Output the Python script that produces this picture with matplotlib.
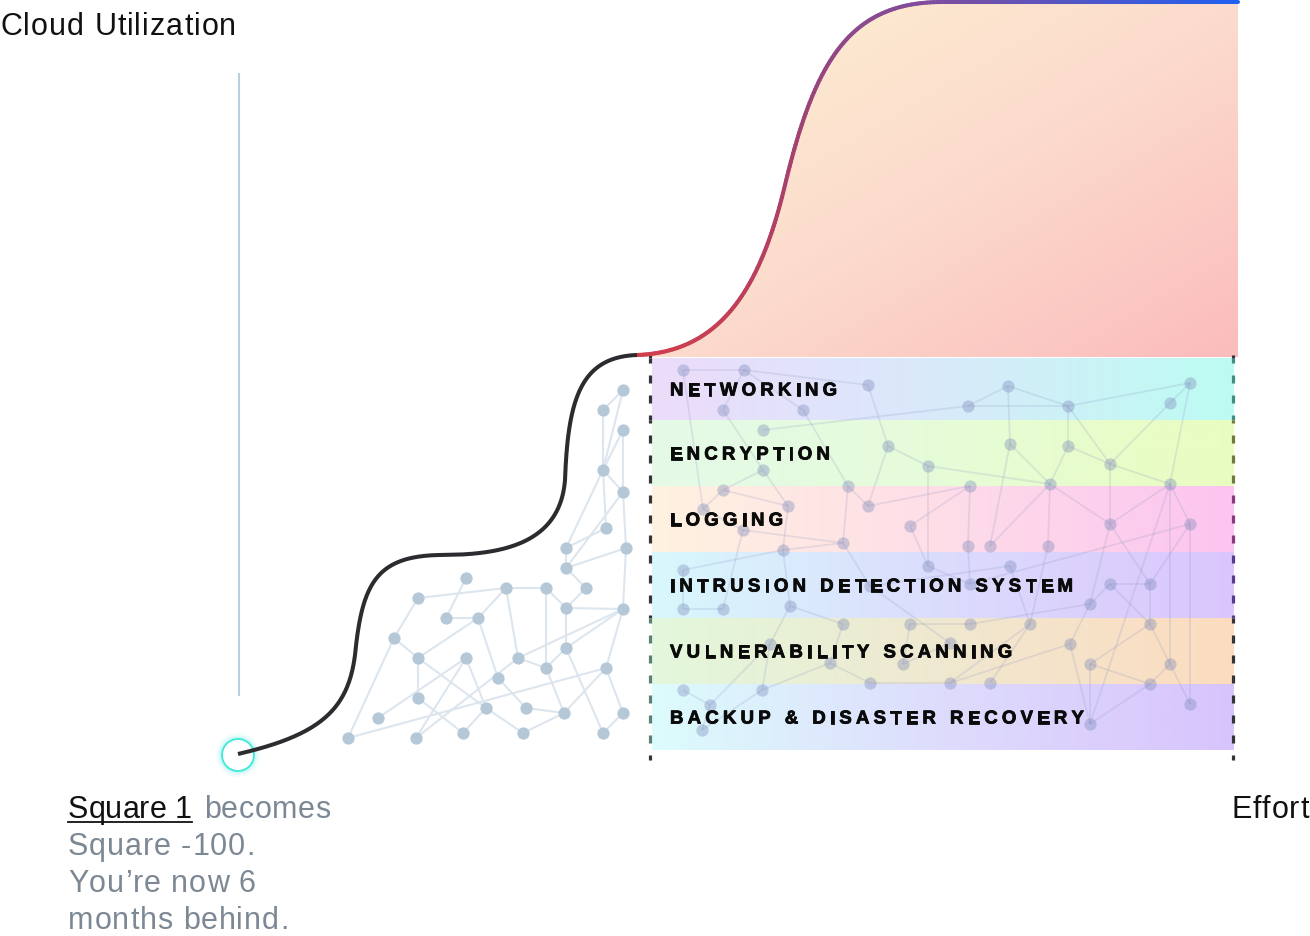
import numpy as np
import matplotlib
matplotlib.use('Agg')
import matplotlib.pyplot as plt
import matplotlib.patheffects as pe
from matplotlib.patches import PathPatch, Circle
from matplotlib.path import Path
from matplotlib.collections import LineCollection
from matplotlib.colors import LinearSegmentedColormap
from matplotlib.font_manager import FontProperties, findfont
from matplotlib.ft2font import FT2Font

W, H = 1310, 936
FONT = 'Liberation Sans'

# ---- data ----
layers = ['NETWORKING', 'ENCRYPTION', 'LOGGING', 'INTRUSION DETECTION SYSTEM',
          'VULNERABILITY SCANNING', 'BACKUP & DISASTER RECOVERY']
layer_edges = [358, 420, 486, 552, 618, 684, 750]
layer_colors = [
    ['#ecdcfb', '#d8eafa', '#bcfcf2'],
    ['#e4fae8', '#e6fcd8', '#eafcc0'],
    ['#fff2e0', '#fedde8', '#fcc4f0'],
    ['#d8f8fc', '#dcdcfc', '#dac6fc'],
    ['#e2f8dc', '#f0e8d0', '#fcdcc0'],
    ['#dcfcfc', '#dedcfc', '#d8c4fc'],
]
dash_left = ['#333338', '#333338', '#333338', '#333338', '#5e7f78', '#5e7f78']
dash_right = ['#3f8f80', '#707a3a', '#8a3a78', '#5a3a90', '#333338', '#333338']

# curve knots (cubic bezier chains, pixel space)
black_x = [238, 320, 348, 355, 362, 375, 440, 500, 560, 565, 568, 580, 637]
black_y = [754, 735, 710, 655, 585, 556, 555, 555, 545, 480, 400, 357, 355]
red_x = [637, 720, 760, 785, 815, 850, 940]
red_y = [355, 352, 290, 185, 60, 3, 2]
plateau_end = 1238

# left (loose) network
left_x = [623, 603, 623, 603, 623, 606, 566, 626, 566, 586, 466, 506, 546, 418, 446, 478, 566, 623,
          394, 418, 466, 518, 546, 566, 606, 498, 418, 486, 526, 564, 623, 378, 348, 416, 463, 523, 603]
left_y = [390, 410, 430, 470, 492, 528, 548, 548, 568, 588, 578, 588, 588, 598, 618, 618, 608, 609,
          638, 658, 658, 658, 668, 648, 668, 678, 698, 708, 708, 713, 713, 718, 738, 738, 733, 733, 733]
left_links = [(0, 1), (0, 3), (1, 3), (2, 3), (2, 4), (3, 4), (3, 5), (3, 6), (4, 8), (4, 7), (5, 6),
              (6, 8), (8, 7), (7, 17), (8, 9), (9, 16), (16, 17), (16, 23), (12, 16), (12, 22), (11, 12),
              (11, 13), (11, 15), (11, 21), (10, 14), (14, 15), (15, 19), (15, 25), (13, 18), (18, 19),
              (18, 32), (19, 26), (19, 27), (20, 31), (20, 33), (20, 27), (26, 34), (27, 34), (27, 35),
              (25, 28), (28, 29), (29, 24), (35, 29), (21, 22), (21, 17), (22, 23), (22, 29), (23, 17),
              (23, 36), (17, 24), (24, 30), (36, 30), (32, 24), (33, 21)]

# network behind the layers
right_x = [683, 744, 723, 803, 868, 763, 888, 763, 928, 723, 703, 788, 848, 868, 910, 743, 783, 843,
           683, 928, 870, 683, 723, 790, 843, 910, 770, 830, 903, 950, 683, 710, 762, 870, 950, 702,
           968, 1008, 1068, 1190, 1170, 1010, 1068, 1110, 970, 1050, 1170, 1110, 1190, 968, 990, 1048,
           1010, 970, 1110, 1150, 1090, 970, 1030, 1150, 1070, 1090, 1170, 990, 1150, 1190, 1090]
right_y = [370, 370, 410, 410, 385, 430, 446, 470, 466, 490, 509, 506, 486, 506, 526, 530, 550, 543,
           570, 566, 586, 609, 609, 606, 624, 624, 644, 663, 664, 643, 690, 705, 690, 683, 683, 730,
           406, 386, 406, 383, 403, 444, 446, 464, 486, 484, 484, 524, 524, 546, 546, 546,
           566, 584, 584, 584, 604, 624, 624, 624, 644, 664, 664, 683, 684, 704, 724]
right_links = [(0, 1), (0, 10), (1, 2), (1, 3), (1, 4), (3, 12), (4, 6), (6, 13), (5, 36), (7, 9), (7, 11),
               (9, 10), (9, 11), (10, 15), (15, 17), (15, 22), (12, 13), (12, 17), (13, 44), (6, 8),
               (8, 19), (8, 45), (14, 19), (18, 16), (18, 21), (21, 22), (16, 17), (16, 23), (17, 20),
               (23, 26), (23, 24), (24, 27), (27, 33), (27, 32), (25, 28), (28, 29), (30, 31), (31, 35),
               (31, 26), (33, 34), (2, 7), (11, 16), (20, 29), (25, 57), (32, 35), (14, 44), (26, 32),
               (20, 52), (19, 53),
               (36, 37), (36, 38), (37, 38), (37, 41), (38, 42), (38, 43), (38, 39), (39, 40), (40, 43),
               (39, 46), (41, 45), (42, 45), (42, 43), (43, 47), (43, 46), (45, 47), (45, 51), (45, 50),
               (44, 49), (41, 50), (47, 46), (46, 48), (46, 62), (46, 66), (47, 55), (47, 56), (48, 65),
               (48, 55), (48, 53), (51, 58), (52, 58), (49, 53), (54, 55), (54, 56), (54, 59), (55, 59),
               (56, 57), (56, 60), (59, 61), (59, 62), (61, 64), (61, 66), (62, 64), (62, 65), (64, 66),
               (60, 66), (60, 34), (58, 63), (58, 34)]

text_lines = ['Square -100.', 'You\u2019re now 6', 'months behind.']


def bezier_chain(xs, ys, n=80):
    pts = []
    for i in range(0, len(xs) - 1, 3):
        p = np.array([[xs[i + k], ys[i + k]] for k in range(4)], float)
        t = np.linspace(0, 1, n)[:, None]
        seg = (1 - t) ** 3 * p[0] + 3 * (1 - t) ** 2 * t * p[1] + 3 * (1 - t) * t ** 2 * p[2] + t ** 3 * p[3]
        pts.append(seg if i == 0 else seg[1:])
    return np.vstack(pts)


fig = plt.figure(figsize=(W / 100, H / 100), dpi=100)
ax = fig.add_axes([0, 0, 1, 1])

reg_font = FT2Font(findfont(FontProperties(family=FONT)))
bold_font = FT2Font(findfont(FontProperties(family=FONT, weight='bold')))


def spaced_text(x, y, s, size, track, ft, space_scale=1.0, align='left', **kw):
    # draw text one glyph at a time with extra letter spacing; returns end x
    ft.set_size(size, 100)
    advs = []
    for ch in s:
        adv = ft.load_char(ord(ch)).linearHoriAdvance / 65536
        advs.append(adv * space_scale if ch == ' ' else adv)
    if align == 'right':
        x -= sum(advs) + track * (len(s) - 1)
    for ch, adv in zip(s, advs):
        if ch != ' ':
            ax.text(x, y, ch, fontsize=size, family=FONT, ha='left', va='baseline', **kw)
        x += adv + track
    return x - track


# ---- filled area under the steep curve ----
red = bezier_chain(red_x, red_y)
top = np.vstack([red, [[plateau_end, red_y[-1]]]])
poly = np.vstack([top, [[plateau_end, 357], [red_x[0], 357]]])
xx, yy = np.meshgrid(np.linspace(0, 1, 300), np.linspace(0, 1, 200))
fill_cmap = LinearSegmentedColormap.from_list('f', ['#fdf1d2', '#fcdccd', '#fbbcbc'])
img = ax.imshow(0.55 * xx + 0.55 * yy, cmap=fill_cmap, vmin=0, vmax=1.1,
                extent=(red_x[0], plateau_end, 357, 0), origin='upper', aspect='auto', zorder=1)
clip = PathPatch(Path(poly), facecolor='none', edgecolor='none')
ax.add_patch(clip)
img.set_clip_path(clip)

# gradient stroke on top of the fill
dense = [top[0]]
for a, b in zip(top[:-1], top[1:]):
    k = max(1, int(np.hypot(*(b - a)) / 3))
    for s in np.linspace(0, 1, k + 1)[1:]:
        dense.append(a + (b - a) * s)
dense = np.array(dense)
segs = np.stack([dense[:-1], dense[1:]], axis=1)
arc = np.concatenate([[0], np.cumsum(np.hypot(*np.diff(dense, axis=0).T))])
arc = arc / arc[-1]
line_cmap = LinearSegmentedColormap.from_list('l', [(0, '#d23e4b'), (0.35, '#a3416f'),
                                                   (0.62, '#7f4e9e'), (1, '#2060f2')])
ax.add_collection(LineCollection(segs, colors=line_cmap(arc[:-1]), linewidths=2.9,
                                 capstyle='round', zorder=4))

# ---- layers ----
bx0, bx1 = 652, 1234
for i, name in enumerate(layers):
    cm = LinearSegmentedColormap.from_list('b%d' % i, layer_colors[i])
    ax.imshow(np.linspace(0, 1, 256)[None, :], cmap=cm, aspect='auto',
              extent=(bx0, bx1, layer_edges[i + 1], layer_edges[i]), origin='upper', zorder=2)

# dashed side rails
lw_d = 2.3
on, off = 8 / 1.389 / lw_d, 12 / 1.389 / lw_d
for i in range(len(layers)):
    y0, y1 = layer_edges[i], layer_edges[i + 1]
    phase = (y0 - 355) / 1.389 / lw_d
    for xr, col in ((650, dash_left[i]), (1233, dash_right[i])):
        ax.plot([xr, xr], [y0, y1], color=col, lw=lw_d, linestyle=(phase, (on, off)),
                dash_capstyle='butt', zorder=3)
for xr in (650, 1233):
    ax.plot([xr, xr], [355, 358], color='#333338', lw=lw_d, solid_capstyle='butt', zorder=3)
    ax.plot([xr, xr], [755, 760], color='#333338', lw=lw_d, solid_capstyle='butt', zorder=3)

# network behind layers
rx, ry = np.array(right_x), np.array(right_y)
rsegs = [[(rx[a], ry[a]), (rx[b], ry[b])] for a, b in right_links]
ax.add_collection(LineCollection(rsegs, colors='#8a92c0', alpha=0.2, linewidths=1.3, zorder=2.5))
ax.scatter(rx, ry, s=78, color='#7786b8', alpha=0.36, linewidths=0, zorder=2.6)

# loose network on the left
lx, ly = np.array(left_x), np.array(left_y)
lsegs = [[(lx[a], ly[a]), (lx[b], ly[b])] for a, b in left_links]
ax.add_collection(LineCollection(lsegs, colors='#dde6ee', linewidths=1.5, zorder=2))
ax.scatter(lx, ly, s=78, color='#b4c8d8', linewidths=0, zorder=3)

# black curve
blk = bezier_chain(black_x, black_y)
ax.plot(blk[:, 0], blk[:, 1], color='#2b2b30', lw=2.9, solid_capstyle='butt', zorder=5)

# starting point
for r_lw, a in ((9, 0.05), (6, 0.08), (3.5, 0.15)):
    ax.add_patch(Circle((black_x[0], black_y[0] + 1), 16, fill=False, edgecolor='#3ee8da',
                        lw=r_lw, alpha=a, zorder=4))
ax.add_patch(Circle((black_x[0], black_y[0] + 1), 16, facecolor='white', edgecolor='#3ee8da',
                    lw=1.3, zorder=4.5))

# y axis
ax.plot([239, 239], [74, 695], color='#b9cfdf', lw=1.5, zorder=1)

# ---- text ----
big = 22
spaced_text(0, 35, 'Cloud Utilization', big, 1.0, reg_font, color='#111111')
spaced_text(1309, 818, 'Effort', big, 1.0, reg_font, align='right', color='#111111')

x_end = spaced_text(68, 818, 'Square 1', big, 0.0, reg_font, color='#111111')
ax.plot([68, x_end], [821.5, 821.5], color='#111111', lw=1.3, zorder=5)
spaced_text(x_end + 12, 818, 'becomes', big, 0.5, reg_font, color='#7c8894')
for k, s in enumerate(text_lines):
    spaced_text(68, 855 + 37 * k, s, big, 0.9, reg_font, color='#7c8894')

# letter-spaced layer labels
for i, name in enumerate(layers):
    yb = (layer_edges[i] + layer_edges[i + 1]) / 2 + 6.5
    spaced_text(670, yb, name, 13.4, 4.2, bold_font, space_scale=1.1, weight='bold',
                color='#0a0a0a', zorder=6,
                path_effects=[pe.withStroke(linewidth=0.6, foreground='#0a0a0a')])

ax.set_xlim(0, W)
ax.set_ylim(H, 0)
ax.axis('off')
fig.savefig('out.png', dpi=100)
